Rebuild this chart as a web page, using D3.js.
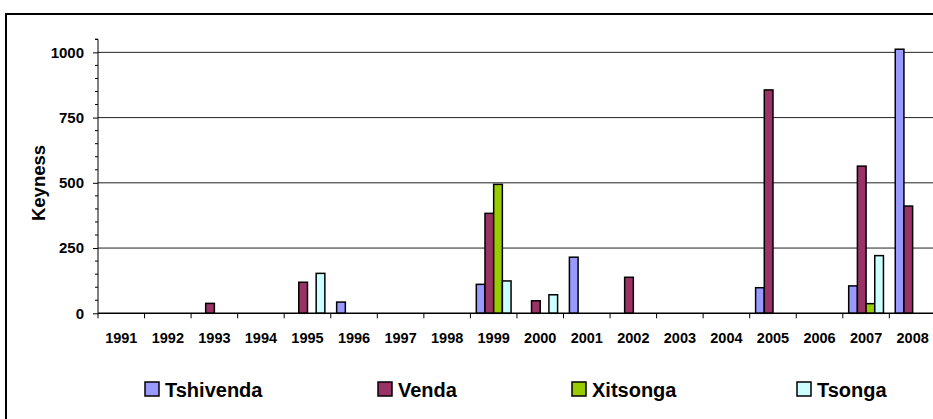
<!DOCTYPE html>
<html>
<head>
<meta charset="utf-8">
<script src="https://cdn.jsdelivr.net/npm/d3@7"></script>
<style>
  body { margin: 0; background: #fff; }
  svg { display: block; font-family: "Liberation Sans", Arial, sans-serif; }
</style>
</head>
<body>
<svg id="chart" width="933" height="419"></svg>
<script>
// data
let years = ["1991", "1992", "1993", "1994", "1995", "1996", "1997", "1998", "1999",
             "2000", "2001", "2002", "2003", "2004", "2005", "2006", "2007", "2008"];
let seriesNames = ["Tshivenda", "Venda", "Xitsonga", "Tsonga"];
let tshivenda = [0, 0, 0, 0, 0, 43, 0, 0, 111, 0, 215, 0, 0, 0, 98, 0, 105, 1012];
let venda     = [0, 0, 38, 0, 119, 0, 0, 0, 383, 48, 0, 138, 0, 0, 856, 0, 564, 411];
let xitsonga  = [0, 0, 0, 0, 0, 0, 0, 0, 494, 0, 0, 0, 0, 0, 0, 0, 37, 0];
let tsonga    = [0, 0, 0, 0, 153, 0, 0, 0, 124, 71, 0, 0, 0, 0, 0, 0, 221, 0];
let yTicks = [0, 250, 500, 750, 1000];
let colors = ["#9999FF", "#993366", "#99CC00", "#CCFFFF"];

let allSeries = [tshivenda, venda, xitsonga, tsonga];

let svg = d3.select("#chart");

// outer frame (right and bottom edges fall outside the window)
svg.append("rect")
    .attr("x", 6).attr("y", 14)
    .attr("width", 940).attr("height", 420)
    .attr("fill", "none")
    .attr("stroke", "#000")
    .attr("stroke-width", 2);

let plotLeft = 98, plotBottom = 313.3, plotTop = 39.3;
let step = 46.55;

let x0 = d3.scaleBand()
    .domain(years)
    .range([plotLeft, plotLeft + step * years.length])
    .paddingInner(0).paddingOuter(0);

let x1 = d3.scaleBand()
    .domain(seriesNames)
    .range([5.9, step - 5.9]);

let y = d3.scaleLinear()
    .domain([0, 1050])
    .range([plotBottom, plotTop]);

// gridlines
svg.append("g")
    .selectAll("line")
    .data(yTicks.slice(1))
    .join("line")
    .attr("x1", plotLeft).attr("x2", 933)
    .attr("y1", d => y(d)).attr("y2", d => y(d))
    .attr("stroke", "#222")
    .attr("stroke-width", 1);

// minor ticks every 50
let minor = d3.range(50, 1051, 50).filter(d => d % 250 != 0);
svg.append("g")
    .selectAll("line")
    .data(minor)
    .join("line")
    .attr("x1", plotLeft - 3).attr("x2", plotLeft)
    .attr("y1", d => y(d)).attr("y2", d => y(d))
    .attr("stroke", "#000");

// y axis
let yAxis = d3.axisLeft(y)
    .tickValues(yTicks)
    .tickFormat(d3.format("d"))
    .tickSize(5)
    .tickPadding(9);
let yG = svg.append("g")
    .attr("transform", `translate(${plotLeft},0)`)
    .call(yAxis);
yG.select(".domain").attr("d", `M-3,${plotTop}H0V${plotBottom}`).attr("stroke", "#000");
yG.selectAll("text")
    .style("font-size", "15px")
    .style("font-weight", "bold")
    .attr("fill", "#000");

// bars
let groups = svg.append("g")
    .selectAll("g")
    .data(years)
    .join("g")
    .attr("transform", d => `translate(${x0(d)},0)`);

groups.selectAll("rect")
    .data((d, i) => seriesNames
        .map((s, k) => ({ name: s, value: allSeries[k][i], k: k }))
        .filter(b => b.value > 0))
    .join("rect")
    .attr("x", d => x1(d.name))
    .attr("width", x1.bandwidth())
    .attr("y", d => y(d.value))
    .attr("height", d => plotBottom - y(d.value))
    .attr("fill", d => colors[d.k])
    .attr("stroke", "#000")
    .attr("stroke-width", 1.5);

// x axis
let xAxis = d3.axisBottom(x0)
    .tickSize(0)
    .tickPadding(19);
let xG = svg.append("g")
    .attr("transform", `translate(0,${plotBottom})`)
    .call(xAxis);
xG.select(".domain").attr("d", `M${plotLeft},0H933`).attr("stroke", "#000").attr("stroke-width", 1.5);
xG.selectAll("text")
    .style("font-size", "14.5px")
    .style("font-weight", "bold")
    .attr("fill", "#000");

// category separators
svg.append("g")
    .selectAll("line")
    .data(years)
    .join("line")
    .attr("x1", d => x0(d)).attr("x2", d => x0(d))
    .attr("y1", plotBottom).attr("y2", plotBottom + 5)
    .attr("stroke", "#000");

// y axis title
svg.append("text")
    .attr("transform", "translate(45,183) rotate(-90)")
    .attr("text-anchor", "middle")
    .style("font-size", "18.5px")
    .style("font-weight", "bold")
    .text("Keyness");

// legend
let legendX = [145, 378, 572, 797];
let legend = svg.append("g")
    .selectAll("g")
    .data(seriesNames)
    .join("g")
    .attr("transform", (d, i) => `translate(${legendX[i]},382)`);

legend.append("rect")
    .attr("width", 14).attr("height", 14)
    .attr("fill", (d, i) => colors[i])
    .attr("stroke", "#000")
    .attr("stroke-width", 1.5);

legend.append("text")
    .attr("x", 20).attr("y", 15)
    .style("font-size", "20px")
    .style("font-weight", "bold")
    .text(d => d);
</script>
</body>
</html>
